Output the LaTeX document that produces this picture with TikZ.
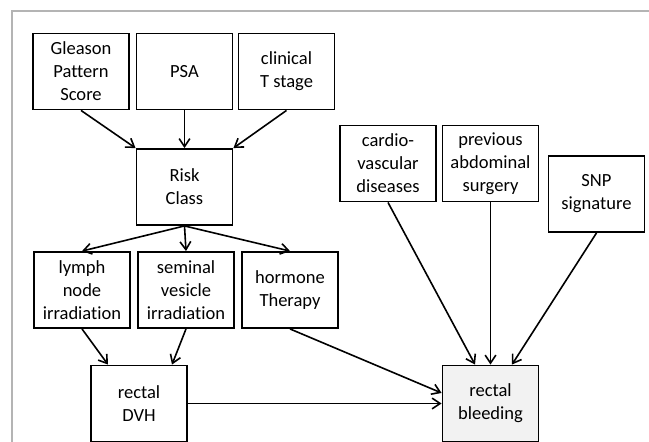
\documentclass[tikz,border=0pt]{standalone}
\usepackage{fontspec}
\setmainfont[Ligatures=NoCommon]{Carlito}
\usetikzlibrary{arrows.meta}
\definecolor{framegray}{HTML}{B4B4B4}
\definecolor{bleedfill}{HTML}{F2F2F2}
\tikzset{
  box/.style={draw=black, line width=1.4pt, minimum width=72pt, minimum height=57pt,
    inner sep=2pt, align=center, font=\fontsize{13.9pt}{17.3pt}\selectfont},
  conn/.style={line width=1.2pt, -{Straight Barb[length=6pt,width=8pt,line width=1.2pt]}},
}
\begin{document}
\begin{tikzpicture}[x=0.75pt,y=-0.75pt]
\useasboundingbox (0,0) rectangle (649,442);
\draw[framegray, line width=1.8pt] (12,442) -- (12,11) -- (649,11);

\node[box] (gleason) at (81,71.5) {Gleason\\Pattern\\Score};
\node[box] (psa) at (184.5,71.5) {PSA};
\node[box] (clin) at (286.5,71.5) {clinical\\T stage};
\node[box] (risk) at (184.5,187) {Risk\\Class};
\node[box] (lymph) at (82,290) {lymph\\node\\irradiation};
\node[box] (semi) at (186,290) {seminal\\vesicle\\irradiation};
\node[box] (horm) at (290,290) {hormone\\Therapy};
\node[box] (dvh) at (139,403.5) {rectal\\DVH};
\node[box] (cardio) at (388,163.5) {cardio-\\vascular\\diseases};
\node[box] (prev) at (490.5,163.5) {previous\\abdominal\\surgery};
\node[box] (snp) at (596.5,194) {SNP\\signature};
\node[box, fill=bleedfill] (bleed) at (490.5,403.5) {rectal\\bleeding};

\draw[conn] (gleason.south) -- (risk.north west);
\draw[conn] (psa.south) -- (risk.north);
\draw[conn] (clin.south) -- (risk.north east);
\draw[conn] (risk.south) -- (lymph.north);
\draw[conn] (risk.south) -- (semi.north);
\draw[conn] (risk.south) -- (horm.north);
\draw[conn] (lymph.south) -- ([xshift=-23.25pt]dvh.north);
\draw[conn] (semi.south) -- ([xshift=24.75pt]dvh.north);
\draw[conn] (horm.south) -- ([yshift=7.9pt]bleed.west);
\draw[conn] (dvh.east) -- (dvh.east -| bleed.west);
\draw[conn] (cardio.south) -- ([xshift=-11.6pt]bleed.north);
\draw[conn] (prev.south) -- (bleed.north);
\draw[conn] (snp.south) -- ([xshift=16.1pt]bleed.north);
\end{tikzpicture}
\end{document}
